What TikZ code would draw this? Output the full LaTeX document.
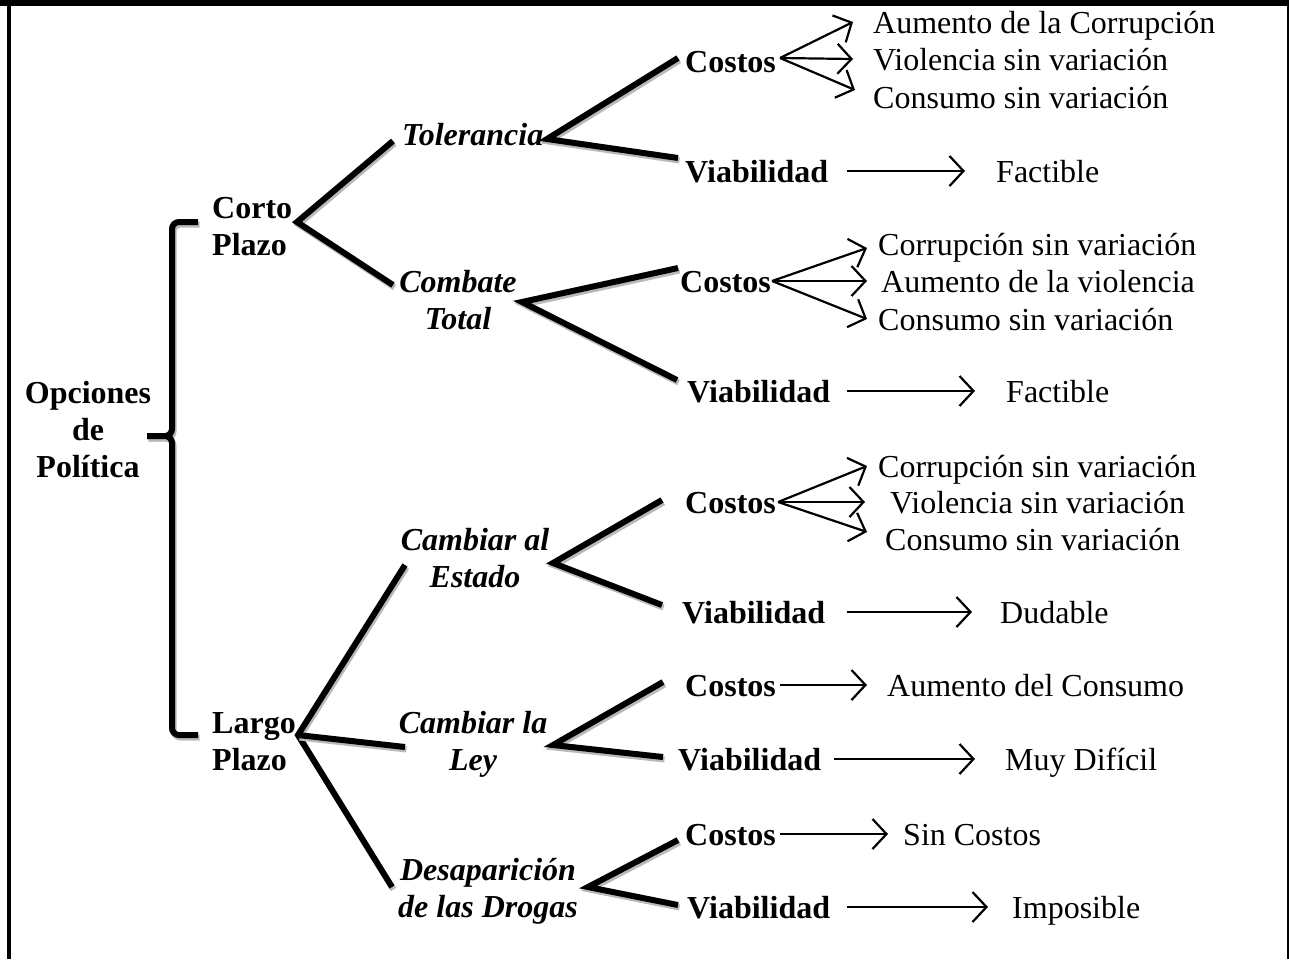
\documentclass[tikz,border=0pt]{standalone}
\usepackage{fontspec}
\setmainfont{Liberation Serif}
\usetikzlibrary{arrows.meta}

\tikzset{
  branch/.style={line width=6pt, preaction={draw=gray!55, line width=6pt, transform canvas={xshift=1.5pt, yshift=-2.5pt}}},
  arrow/.style={line width=2.2pt, -{Straight Barb[length=14pt, width=30pt, line width=2.2pt]}},
  lbl/.style={inner sep=0pt, text height=22pt, text depth=0pt, anchor=base west, font=\fontsize{32}{37}\selectfont},
  head/.style={lbl, font=\fontsize{32}{37}\selectfont\bfseries},
  multi/.style={inner sep=0pt, anchor=base, font=\fontsize{32}{37}\selectfont\bfseries},
  opt/.style={multi, font=\fontsize{32}{37}\selectfont\bfseries\itshape, align=center},
}

\begin{document}
\begin{tikzpicture}[x=1pt, y=-1pt]
            \useasboundingbox (0,0) rectangle (1289,959);
            % Frame
            \fill (0,0) rectangle (1289,6);
            \draw[line width=4pt] (9,0) -- (9,959);
            \draw[line width=2pt] (1288,0) -- (1288,959);

            % Root and horizons (multi-line nodes sit on their last baseline)
            \node[multi, align=center] (root) at (88,477) {Opciones\\de\\Política};
            \node[multi, align=left, anchor=base west] (corto) at (212,255) {Corto\\Plazo};
            \node[multi, align=left, anchor=base west] (largo) at (212,770) {Largo\\Plazo};
            \draw[branch, rounded corners=7pt] (198,222) -- (172,222) -- (172,436) -- (147,436);
            \draw[branch, rounded corners=7pt] (147,436) -- (172,436) -- (172,735) -- (198,735);

            % Options
            \node[opt, anchor=base west] (tol) at (402,145) {Tolerancia};
            \node[opt] (comb) at (458,329) {Combate\\Total};
            \node[opt] (est) at (475,587) {Cambiar al\\Estado};
            \node[opt] (ley) at (473,770) {Cambiar la\\Ley};
            \node[opt] (des) at (488,917) {Desaparición\\de las Drogas};

            % Costos / Viabilidad
            \node[head] (c1) at (685,72) {Costos};
            \node[head] (v1) at (685,182) {Viabilidad};
            \node[head] (c2) at (680,292) {Costos};
            \node[head] (v2) at (687,402) {Viabilidad};
            \node[head] (c3) at (685,513) {Costos};
            \node[head] (v3) at (682,623) {Viabilidad};
            \node[head] (c4) at (685,696) {Costos};
            \node[head] (v4) at (678,770) {Viabilidad};
            \node[head] (c5) at (685,845) {Costos};
            \node[head] (v5) at (687,918) {Viabilidad};

            % Outcomes
            \node[lbl] (r1a) at (873,33) {Aumento de la Corrupción};
            \node[lbl] (r1b) at (873,70) {Violencia sin variación};
            \node[lbl] (r1c) at (873,108) {Consumo sin variación};
            \node[lbl] (f1) at (996,182) {Factible};
            \node[lbl] (r2a) at (878,255) {Corrupción sin variación};
            \node[lbl] (r2b) at (881,292) {Aumento de la violencia};
            \node[lbl] (r2c) at (878,330) {Consumo sin variación};
            \node[lbl] (f2) at (1006,402) {Factible};
            \node[lbl] (r3a) at (878,477) {Corrupción sin variación};
            \node[lbl] (r3b) at (890,513) {Violencia sin variación};
            \node[lbl] (r3c) at (885,550) {Consumo sin variación};
            \node[lbl] (f3) at (1000,623) {Dudable};
            \node[lbl] (r4) at (887,696) {Aumento del Consumo};
            \node[lbl] (f4) at (1005,770) {Muy Difícil};
            \node[lbl] (r5) at (903,845) {Sin Costos};
            \node[lbl] (f5) at (1012,918) {Imposible};

            % Branch ends
            \coordinate (cortoR) at (297,222);
            \coordinate (largoR) at (298,735);
            \coordinate (tolL) at (393,141);   \coordinate (tolR) at (547,139);
            \coordinate (combL) at (393,285);  \coordinate (combR) at (522,302);
            \coordinate (estL) at (405,565);   \coordinate (estR) at (553,563);
            \coordinate (leyL) at (405,747);   \coordinate (leyR) at (553,745);
            \coordinate (desL) at (392,887);   \coordinate (desR) at (588,887);
            \coordinate (c1L) at (678,58);     \coordinate (v1L) at (678,158);
            \coordinate (c2L) at (678,268);    \coordinate (v2L) at (677,380);
            \coordinate (c3L) at (662,500);    \coordinate (v3L) at (662,605);
            \coordinate (c4L) at (663,682);    \coordinate (v4L) at (663,757);
            \coordinate (c5L) at (678,840);    \coordinate (v5L) at (678,905);

            % Tree
            \draw[branch] (tolL) -- (cortoR) -- (combL);
            \draw[branch] (estL) -- (largoR) -- (desL);
            \draw[branch] (largoR) -- (leyL);
            \foreach \o/\n in {tol/1, comb/2, est/3, ley/4, des/5} {
                \draw[branch] (c\n L) -- (\o R) -- (v\n L);
            }

            % Costs
            \foreach \t/\s/\u in {r1a/20/0, r1b/20/0, r1c/18/7} \draw[arrow] ([xshift=4pt, yshift=3pt]c1.east) -- ([xshift=-\s pt, yshift=\u pt]\t.west);
            \foreach \t/\s/\u in {r2a/11/-4, r2b/14/0, r2c/11/0} \draw[arrow] ([xshift=1pt]c2.east) -- ([xshift=-\s pt, yshift=\u pt]\t.west);
            \foreach \t/\s/\u in {r3a/11/0, r3b/25/0, r3c/18/7} \draw[arrow] ([xshift=2pt]c3.east) -- ([xshift=-\s pt, yshift=\u pt]\t.west);
            \draw[arrow] ([xshift=4pt]c4.east) -- ([xshift=-20pt]r4.west);
            \draw[arrow] ([xshift=4pt]c5.east) -- ([xshift=-15pt]r5.west);

            % Viability
            \draw[arrow] ([xshift=19pt]v1.east) -- ([xshift=-31pt]f1.west);
            \draw[arrow] ([xshift=17pt]v2.east) -- ([xshift=-31pt]f2.west);
            \draw[arrow] ([xshift=22pt]v3.east) -- ([xshift=-28pt]f3.west);
            \draw[arrow] ([xshift=13pt]v4.east) -- ([xshift=-30pt]f4.west);
            \draw[arrow] ([xshift=17pt]v5.east) -- ([xshift=-24pt]f5.west);
\end{tikzpicture}
\end{document}
